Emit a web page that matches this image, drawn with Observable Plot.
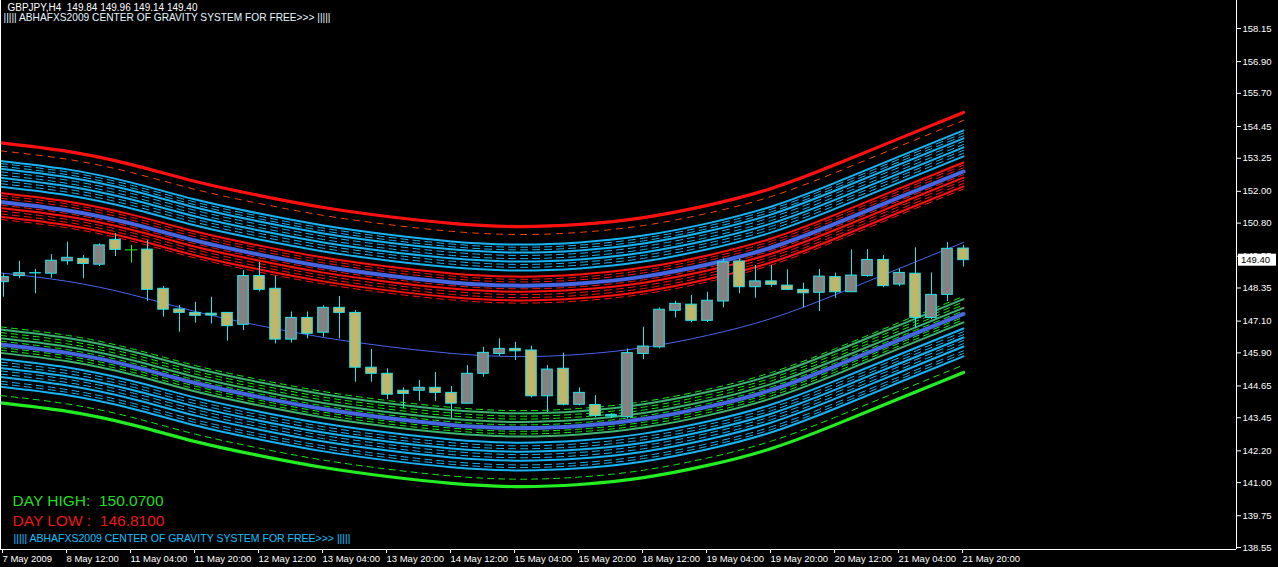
<!DOCTYPE html>
<html><head><meta charset="utf-8">
<script src="https://cdn.jsdelivr.net/npm/d3@7"></script>
<script src="https://cdn.jsdelivr.net/npm/@observablehq/plot@0.6"></script>
<style>
html,body{margin:0;padding:0;background:#000;overflow:hidden}
#chart svg{display:block}
</style></head><body><div id="chart"></div>
<script>
// ---------- data ----------
const symbol = "GBPJPY", timeframe = "H4";
const opens  = [148.57,148.80,148.90,148.89,149.36,149.45,149.23,150.17,149.79,149.80,
                148.32,147.54,147.41,147.38,147.41,146.96,148.80,148.32,146.40,147.22,
                146.66,147.60,147.41,145.34,145.11,144.47,144.47,144.58,144.39,143.98,
                145.11,145.86,146.05,145.99,144.26,145.30,143.94,143.93,143.50,143.47,
                145.86,146.11,147.49,147.72,147.11,147.84,149.35,148.38,148.60,148.44,
                148.28,148.17,148.76,148.19,148.80,149.41,148.48,148.89,147.22,148.09,149.84];
const highs  = [148.89,149.36,149.05,149.61,150.08,149.58,150.02,150.40,149.96,150.14,
                148.41,147.69,147.81,148.00,147.41,149.01,149.32,148.80,147.44,147.44,
                147.68,148.03,147.50,146.03,145.30,144.58,144.86,145.16,144.63,145.42,
                146.11,146.43,146.30,146.15,145.42,145.89,144.58,144.29,143.60,146.05,
                146.87,147.60,147.85,148.07,148.19,149.45,149.45,149.20,149.20,149.04,
                148.53,149.05,148.91,149.79,149.80,149.58,149.07,149.87,148.92,150.07,149.96];
const lows   = [148.00,148.70,148.13,148.72,149.21,148.70,149.16,149.54,149.29,147.85,
                147.25,146.68,147.02,146.99,146.34,146.74,148.20,146.24,146.27,146.43,
                146.49,146.43,144.79,144.79,144.13,143.79,144.07,144.07,143.40,143.98,
                144.98,145.76,145.61,144.20,143.65,143.90,143.90,143.45,143.42,143.40,
                145.64,146.05,147.22,147.04,147.05,147.60,148.13,147.96,148.38,148.25,
                147.60,147.46,147.96,148.19,148.76,148.36,148.40,146.81,147.15,147.84,149.14];
const closes = [148.76,148.91,148.91,149.38,149.49,149.26,149.96,149.79,149.79,148.28,
                147.53,147.41,147.30,147.31,146.91,148.80,148.28,146.40,147.22,146.62,
                147.60,147.41,145.34,145.11,144.32,144.35,144.58,144.39,143.98,145.11,
                145.90,146.05,145.96,144.26,145.27,143.94,144.39,143.52,143.55,145.89,
                146.14,147.53,147.75,147.11,147.87,149.32,148.38,148.60,148.47,148.28,
                148.15,148.78,148.19,148.82,149.41,148.42,148.92,147.22,148.09,149.83,149.40];

const xTickIndex  = [0,4,8,12,16,20,24,28,32,36,40,44,48,52,56,60];
const xTickLabels = ["7 May 2009","8 May 12:00","11 May 04:00","11 May 20:00","12 May 12:00",
                     "13 May 04:00","13 May 20:00","14 May 12:00","15 May 04:00","15 May 20:00",
                     "18 May 12:00","19 May 04:00","19 May 20:00","20 May 12:00","21 May 04:00","21 May 20:00"];
const yTickValues = [158.15,156.90,155.70,154.45,153.25,152.00,150.80,149.55,148.35,
                     147.10,145.90,144.65,143.45,142.20,141.00,139.75,138.55];

// centre of gravity line (thin blue)
const centerIndex  = [-0.19,4,8,12,16,20,24,28,32,36,40,44,48,52,56,60];
const centerValues = [148.92,148.60,148.10,147.46,146.93,146.48,146.14,145.88,145.76,145.84,
                      146.10,146.56,147.20,148.10,149.09,150.07];

// band offsets from the centre line (price units) and their kind
const upperOffsets = [4.91,4.61,4.23,4.13,4.03,3.93,3.82,3.70,3.59,3.48,3.37,3.25,
                      3.02,2.92,2.82,2.68,2.56,2.45,2.34,2.23,2.12,2.02];
const upperKinds   = ["redThick","orangeDash","cyan","cyanDash","cyanDash","cyan","cyanDash","cyanDash","cyan","cyanDash","cyanDash","cyan",
                      "red","redDash","redDash","blueThick","redDash","red","redDash","redDash","red","redDash"];
const lowerOffsets = [-4.91,-4.63,-4.30,-4.19,-4.09,-3.93,-3.82,-3.70,-3.59,-3.48,-3.37,-3.25,
                      -3.02,-2.92,-2.82,-2.70,-2.58,-2.47,-2.36,-2.25,-2.14,-2.04];
const lowerKinds   = ["greenThick","limeDash","cyan","cyanDash","cyanDash","cyan","cyanDash","cyanDash","cyan","cyanDash","cyanDash","cyan",
                      "seaGreen","limeDash","limeDash","blueThick","limeDash","seaGreen","limeDash","limeDash","seaGreen","limeDash"];

const dayHigh = 150.07, dayLow = 146.81;
const banner = "||||| ABHAFXS2009 CENTER OF GRAVITY SYSTEM FOR FREE>>> |||||";

// ---------- styles ----------
const kindStyle = {
  redThick:   {stroke:"#ff1010", strokeWidth:3.2},
  greenThick: {stroke:"#22ee22", strokeWidth:3.2},
  orangeDash: {stroke:"#ff4500", strokeWidth:1, strokeDasharray:"6,6"},
  limeDash:   {stroke:"#11ee11", strokeWidth:1, strokeDasharray:"6,5"},
  cyan:       {stroke:"#16b4f4", strokeWidth:2},
  cyanDash:   {stroke:"#16b4f4", strokeWidth:1, strokeDasharray:"7,5"},
  red:        {stroke:"#ff1010", strokeWidth:2},
  redDash:    {stroke:"#ff1010", strokeWidth:1, strokeDasharray:"7,5"},
  seaGreen:   {stroke:"#3cb371", strokeWidth:2},
  blueThick:  {stroke:"#4566e0", strokeWidth:4}
};
const bullFill = "#828282", bearFill = "#bdb76b", outline = "#1ee6ee", dojiColor = "#22ee22";
const FONT = "'Liberation Sans', Arial, sans-serif";

// ---------- build tables ----------
const bars = opens.map((o, i) => ({i, o, h: highs[i], l: lows[i], c: closes[i]}));
const center = centerIndex.map((i, k) => ({i, v: centerValues[k]}));
const bandRows = [];
[[upperOffsets, upperKinds, "u"], [lowerOffsets, lowerKinds, "l"]].forEach(([offs, kinds, side]) => {
  offs.forEach((off, k) => center.forEach(p => bandRows.push({band: side + k, kind: kinds[k], i: p.i, v: p.v + off})));
});

const xDomain = [-3/16, 1233/16];
const yDomain = [138.55 - 2/26.48, 138.55 + 547/26.48];

const order = ["cyanDash","redDash","limeDash","orangeDash","cyan","red","seaGreen","blueThick","redThick","greenThick"];
const bandMarks = order.map(kind =>
  Plot.line(bandRows.filter(d => d.kind === kind), {x: "i", y: "v", z: "band", curve: "natural", ...kindStyle[kind]}));

const isDoji = d => d.o === d.c;
const chart = Plot.plot({
  width: 1278, height: 567,
  marginLeft: 0, marginRight: 42, marginTop: 0, marginBottom: 18,
  style: {background: "#000", color: "#fff", fontFamily: FONT, fontSize: "9.5px"},
  x: {type: "linear", domain: xDomain, axis: null},
  y: {type: "linear", domain: yDomain, axis: null},
  marks: [
    ...bandMarks,
    Plot.line(center, {x: "i", y: "v", curve: "natural", stroke: "#4a63ee", strokeWidth: 1}),
    Plot.ruleX(bars, {x: "i", y1: "l", y2: "h", stroke: d => isDoji(d) ? dojiColor : outline, strokeWidth: 1}),
    Plot.rect(bars.filter(d => !isDoji(d)), {
      x1: d => d.i - 0.33, x2: d => d.i + 0.33,
      y1: d => Math.min(d.o, d.c), y2: d => Math.max(d.o, d.c),
      fill: d => d.c > d.o ? bullFill : bearFill, stroke: outline, strokeWidth: 1
    }),
    Plot.ruleY(bars.filter(isDoji), {y: "o", x1: d => d.i - 0.4, x2: d => d.i + 0.4, stroke: dojiColor, strokeWidth: 1}),
    Plot.ruleY([yDomain[0]], {stroke: "#fff"}),
    Plot.ruleX([xDomain[1]], {stroke: "#fff"}),
    Plot.ruleX([xDomain[0]], {stroke: "#fff"}),
    Plot.axisX(xTickIndex, {anchor: "bottom", label: null, tickSize: 4, tickPadding: 2, textAnchor: "start", dx: -1,
      tickFormat: d => xTickLabels[xTickIndex.indexOf(d)], stroke: "#fff", fill: "#fff", fontSize: 9.5}),
    Plot.axisY(yTickValues, {anchor: "right", label: null, tickSize: 4, tickPadding: 2, textAnchor: "start",
      tickFormat: d => d.toFixed(2), stroke: "#fff", fill: "#fff", fontSize: 9.5}),
    Plot.text([`${symbol},${timeframe}  ${opens.at(-1).toFixed(2)} ${highs.at(-1).toFixed(2)} ${lows.at(-1).toFixed(2)} ${closes.at(-1).toFixed(2)}`],
      {frameAnchor: "top-left", dx: 7, dy: 7, textAnchor: "start", lineAnchor: "middle", fill: "#fff", fontSize: 10}),
    Plot.text([banner], {frameAnchor: "top-left", dx: 3, dy: 17, textAnchor: "start", lineAnchor: "middle", fill: "#e6f6ff", fontSize: 10.2}),
    Plot.text([`DAY HIGH:  ${dayHigh.toFixed(4)}`], {frameAnchor: "bottom-left", dx: 12, dy: -48, textAnchor: "start", lineAnchor: "middle", fill: "#22dd22", fontSize: 15.5}),
    Plot.text([`DAY LOW :  ${dayLow.toFixed(4)}`], {frameAnchor: "bottom-left", dx: 12, dy: -28, textAnchor: "start", lineAnchor: "middle", fill: "#ee1515", fontSize: 15.5}),
    Plot.text([banner], {frameAnchor: "bottom-left", dx: 13, dy: -11, textAnchor: "start", lineAnchor: "middle", fill: "#10c0ff", fontSize: 10.5})
  ]
});
document.getElementById("chart").append(chart);

// current price marker on the price axis
const yPrice = chart.scale("y").apply(closes.at(-1));
const xEdge = chart.scale("x").apply(xDomain[1]);
const svg = d3.select(chart);
svg.append("rect").attr("x", xEdge + 2).attr("y", yPrice - 6).attr("width", 38).attr("height", 12).attr("fill", "#fff");
svg.append("text").attr("x", xEdge + 5).attr("y", yPrice + 3.5).attr("fill", "#000").attr("text-anchor", "start")
   .attr("font-family", FONT).attr("font-size", 9.5).text(closes.at(-1).toFixed(2));
</script></body></html>
